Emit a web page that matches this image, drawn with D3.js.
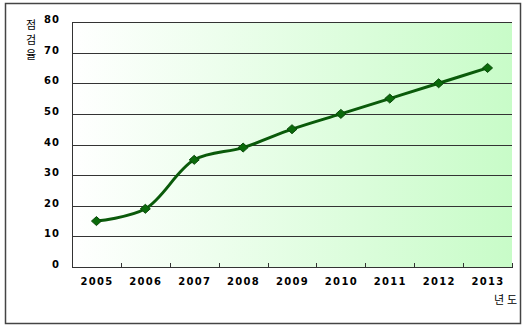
<!DOCTYPE html>
<html><head><meta charset="utf-8">
<script src="https://cdn.jsdelivr.net/npm/d3@7"></script>
<style>body{margin:0;background:#fff}svg{display:block}</style>
</head><body>
<svg id="c" width="528" height="327"></svg>
<script>
const years = ["2005","2006","2007","2008","2009","2010","2011","2012","2013"];
const rates = [15, 19, 35, 39, 45, 50, 55, 60, 65];
const yTicks = [0,10,20,30,40,50,60,70,80];
const yTitle = ["점","검","율"];
const xTitle = ["년","도"];

const svg = d3.select("#c");
const L = 72, T = 22, R = 512, B = 267;

svg.append("rect").attr("x",5.5).attr("y",3.5).attr("width",515).attr("height",320)
  .attr("fill","#fff").attr("stroke","#444").attr("stroke-width",1.5);

const defs = svg.append("defs");
const g = defs.append("linearGradient").attr("id","bg").attr("x1","0").attr("x2","1").attr("y1","0").attr("y2","0");
g.append("stop").attr("offset","0").attr("stop-color","#ffffff");
g.append("stop").attr("offset","1").attr("stop-color","#c8fcc8");

const x = d3.scaleBand().domain(years).range([L,R]);
const y = d3.scaleLinear().domain([0,80]).range([B,T]);

svg.append("rect").attr("x",L).attr("y",T).attr("width",R-L).attr("height",B-T).attr("fill","url(#bg)");

svg.append("g").selectAll("line").data(yTicks.filter(d=>d>0)).join("line")
  .attr("x1",L).attr("x2",R).attr("y1",d=>Math.round(y(d))+0.5).attr("y2",d=>Math.round(y(d))+0.5)
  .attr("stroke","#333").attr("stroke-width",1);

svg.append("line").attr("x1",L+0.5).attr("x2",L+0.5).attr("y1",T).attr("y2",B+1).attr("stroke","#333");
svg.append("line").attr("x1",L).attr("x2",R+1).attr("y1",B+0.5).attr("y2",B+0.5).attr("stroke","#333");
const tickX = years.map(d=>x(d)+x.bandwidth());
svg.append("g").selectAll("line").data(tickX).join("line")
  .attr("x1",d=>Math.round(d)+0.5).attr("x2",d=>Math.round(d)+0.5).attr("y1",B-4).attr("y2",B)
  .attr("stroke","#333");

const font = "'DejaVu Sans', Verdana, sans-serif";
svg.append("g").selectAll("text").data(yTicks).join("text")
  .attr("x",60).attr("y",d=>y(d)+1).attr("text-anchor","end")
  .attr("font-family",font).attr("font-weight","bold").attr("font-size",10).attr("letter-spacing",1)
  .attr("fill","#000").text(d=>d);

svg.append("g").selectAll("text").data(years).join("text")
  .attr("x",d=>x(d)+x.bandwidth()/2+0.5).attr("y",285).attr("text-anchor","middle")
  .attr("font-family",font).attr("font-weight","bold").attr("font-size",10).attr("letter-spacing",1.3)
  .attr("fill","#000").text(d=>d);

const kfont = "'Noto Sans CJK KR', 'Noto Sans CJK SC', sans-serif";
yTitle.forEach((ch,i)=>{
  svg.append("text").attr("x",31).attr("y",29+i*15).attr("text-anchor","middle")
    .attr("font-family",kfont).attr("font-size",11).attr("fill","#000").text(ch);
});
xTitle.forEach((ch,i)=>{
  svg.append("text").attr("x",499+i*13).attr("y",304).attr("text-anchor","middle")
    .attr("font-family",kfont).attr("font-size",11).attr("fill","#000").text(ch);
});

const pts = years.map((d,i)=>[x(d)+x.bandwidth()/2, y(rates[i])]);
svg.append("path").attr("d", d3.line().curve(d3.curveCatmullRom.alpha(0.5))(pts))
  .attr("fill","none").attr("stroke","#0a5a0a").attr("stroke-width",3);

svg.append("g").selectAll("path").data(pts).join("path")
  .attr("transform",d=>`translate(${d[0]},${d[1]})`)
  .attr("d","M-5,0L0,-4.5L5,0L0,4.5Z")
  .attr("fill","#0a6a0a").attr("stroke","#0a4a0a").attr("stroke-width",1);
</script>
</body></html>
